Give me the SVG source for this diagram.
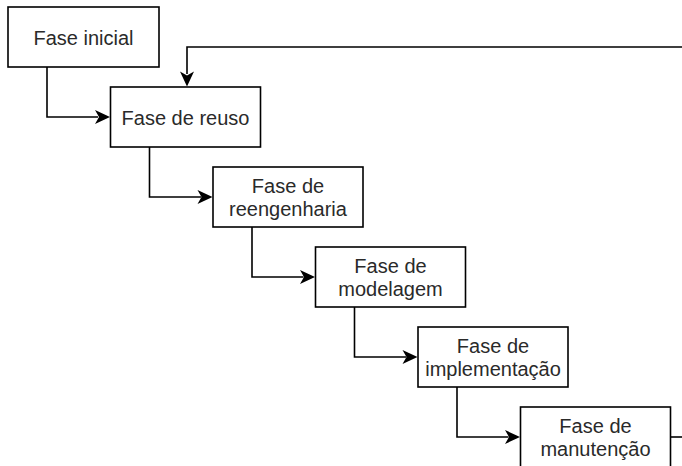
<svg xmlns="http://www.w3.org/2000/svg" width="682" height="466" viewBox="0 0 682 466">
  <style>
    .box { fill: #ffffff; stroke: #000000; stroke-width: 1.6; }
    .lbl { font-family: "Liberation Sans", Arial, sans-serif; font-size: 20px; fill: #2a2a2a; text-anchor: middle; }
    .edge { fill: none; stroke: #000000; stroke-width: 1.6; }
    .head { fill: #000000; stroke: none; }
  </style>
  <defs>
    <!-- filled arrowhead with a notched back, tip at the origin pointing +x -->
    <path id="arrow" class="head" d="M0,0 L-15,-7 L-11,0 L-15,7 Z"/>
  </defs>

  <rect width="682" height="466" fill="#ffffff"/>

  <g id="connectors">
    <!-- feedback loop entering from the right edge -->
    <path class="edge" d="M682,47 H187 V74"/>
    <use href="#arrow" transform="translate(187,86.5) rotate(90)"/>

    <path class="edge" d="M47,67 V117 H98"/>
    <use href="#arrow" transform="translate(110,117)"/>

    <path class="edge" d="M149.5,147 V197 H201"/>
    <use href="#arrow" transform="translate(212.5,197)"/>

    <path class="edge" d="M252,227 V277 H303.5"/>
    <use href="#arrow" transform="translate(315,277)"/>

    <path class="edge" d="M354.5,307 V357 H406"/>
    <use href="#arrow" transform="translate(417.5,357)"/>

    <path class="edge" d="M457,387 V437 H508.5"/>
    <use href="#arrow" transform="translate(520,437)"/>

    <!-- outgoing line from the last phase, leaving to the right -->
    <path class="edge" d="M670.5,437 H682"/>
  </g>

  <g id="fase-inicial">
    <rect class="box" x="8" y="7" width="151" height="60"/>
    <text class="lbl" x="83.5" y="44.5">Fase inicial</text>
  </g>

  <g id="fase-reuso">
    <rect class="box" x="110.5" y="87" width="150" height="60"/>
    <text class="lbl" x="185.5" y="124.5">Fase de reuso</text>
  </g>

  <g id="fase-reengenharia">
    <rect class="box" x="213" y="167" width="150" height="60"/>
    <text class="lbl" x="288" y="193">Fase de</text>
    <text class="lbl" x="288" y="215.5">reengenharia</text>
  </g>

  <g id="fase-modelagem">
    <rect class="box" x="315.5" y="247" width="150" height="60"/>
    <text class="lbl" x="390.5" y="273">Fase de</text>
    <text class="lbl" x="390.5" y="295.5">modelagem</text>
  </g>

  <g id="fase-implementacao">
    <rect class="box" x="418" y="327" width="150" height="60"/>
    <text class="lbl" x="493" y="353">Fase de</text>
    <text class="lbl" x="493" y="375.5">implementação</text>
  </g>

  <g id="fase-manutencao">
    <rect class="box" x="520.5" y="407" width="150" height="62"/>
    <text class="lbl" x="595.5" y="433">Fase de</text>
    <text class="lbl" x="595.5" y="455.5">manutenção</text>
  </g>
</svg>
